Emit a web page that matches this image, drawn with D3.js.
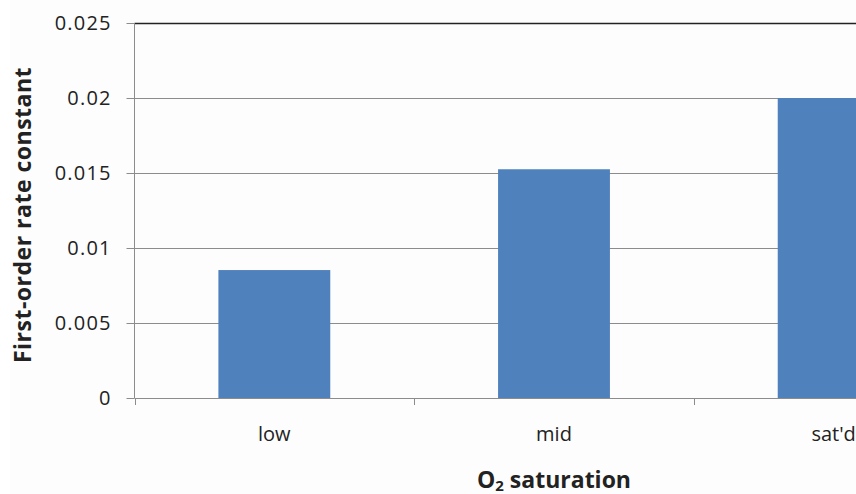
<!DOCTYPE html>
<html>
<head>
<meta charset="utf-8">
<script src="https://cdn.jsdelivr.net/npm/d3@7/dist/d3.min.js"></script>
<style>
  html, body { margin: 0; padding: 0; background: #ffffff; }
  svg { display: block; }
  text { font-family: "Open Sans", "DejaVu Sans", sans-serif; fill: #222; }
</style>
</head>
<body>
<svg id="chart" width="856" height="494"></svg>
<script>
// Rate constants by oxygen saturation level
const categories = ["low", "mid", "sat'd"];
const rateConstants = [0.00853, 0.01525, 0.0200];
const yTicks = [0, 0.005, 0.01, 0.015, 0.02, 0.025];
const yTickLabels = ["0", "0.005", "0.01", "0.015", "0.02", "0.025"];

const W = 856, H = 494;
const plot = { left: 134.5, right: 973.5, top: 23, bottom: 398 };

const svg = d3.select("#chart");

// faint chart-area fill
svg.append("rect")
  .attr("x", 10).attr("y", 0).attr("width", W - 10).attr("height", H)
  .attr("fill", "#fdfdfd");

const x = d3.scaleBand()
  .domain(categories)
  .range([plot.left, plot.right])
  .paddingInner(0.6)
  .paddingOuter(0.3);

const y = d3.scaleLinear()
  .domain([0, 0.025])
  .range([plot.bottom, plot.top]);

// horizontal gridlines
svg.append("g")
  .selectAll("line")
  .data(yTicks.filter(v => v > 0))
  .join("line")
  .attr("x1", plot.left).attr("x2", plot.right)
  .attr("y1", d => Math.round(y(d)) + 0.5).attr("y2", d => Math.round(y(d)) + 0.5)
  .attr("stroke", d => d === 0.025 ? "#222" : "#8c8c8c")
  .attr("stroke-width", d => d === 0.025 ? 1.5 : 1);

// bars
svg.append("g")
  .selectAll("rect")
  .data(categories.map((c, i) => ({ c, v: rateConstants[i] })))
  .join("rect")
  .attr("x", d => x(d.c))
  .attr("width", x.bandwidth())
  .attr("y", d => y(d.v))
  .attr("height", d => y(0) - y(d.v))
  .attr("fill", "#4f81bd");

// y axis
const yAxis = d3.axisLeft(y)
  .tickValues(yTicks)
  .tickFormat((d, i) => yTickLabels[i])
  .tickSize(8)
  .tickPadding(16);
const gy = svg.append("g")
  .attr("transform", `translate(${plot.left},0)`)
  .call(yAxis);
gy.select(".domain").attr("stroke", "#8c8c8c").attr("d", `M-0,${plot.top}V${plot.bottom}`);
gy.selectAll(".tick line").attr("stroke", "#8c8c8c");
gy.selectAll(".tick text")
  .attr("font-family", "'Open Sans', sans-serif")
  .attr("font-size", 20)
  .attr("letter-spacing", 1.2)
  .attr("dx", 1.2)
  .attr("fill", "#333");

// x axis line and category boundary ticks
svg.append("line")
  .attr("x1", plot.left).attr("x2", plot.right)
  .attr("y1", plot.bottom + 0.5).attr("y2", plot.bottom + 0.5)
  .attr("stroke", "#8c8c8c");
const boundaries = d3.range(categories.length + 1).map(i => plot.left + i * x.step());
svg.append("g")
  .selectAll("line")
  .data(boundaries)
  .join("line")
  .attr("x1", d => Math.round(d) + 0.5).attr("x2", d => Math.round(d) + 0.5)
  .attr("y1", plot.bottom).attr("y2", plot.bottom + 7)
  .attr("stroke", "#8c8c8c");

// category labels
svg.append("g")
  .selectAll("text")
  .data(categories)
  .join("text")
  .attr("x", d => x(d) + x.bandwidth() / 2)
  .attr("y", 441)
  .attr("text-anchor", "middle")
  .attr("font-size", 20)
  .attr("fill", "#333")
  .text(d => d);

// axis titles
const xt = svg.append("text")
  .attr("x", (plot.left + plot.right) / 2)
  .attr("y", 488)
  .attr("text-anchor", "middle")
  .attr("font-size", 23)
  .attr("font-weight", "bold")
  .attr("fill", "#111");
xt.append("tspan").text("O");
xt.append("tspan").attr("font-size", 15).attr("dy", 3).text("2");
xt.append("tspan").attr("dy", -3).text(" saturation");

svg.append("text")
  .attr("transform", `translate(31,215) rotate(-90)`)
  .attr("text-anchor", "middle")
  .attr("font-size", 23)
  .attr("font-weight", "bold")
  .attr("letter-spacing", 0.5)
  .attr("fill", "#111")
  .text("First-order rate constant");
</script>
</body>
</html>
